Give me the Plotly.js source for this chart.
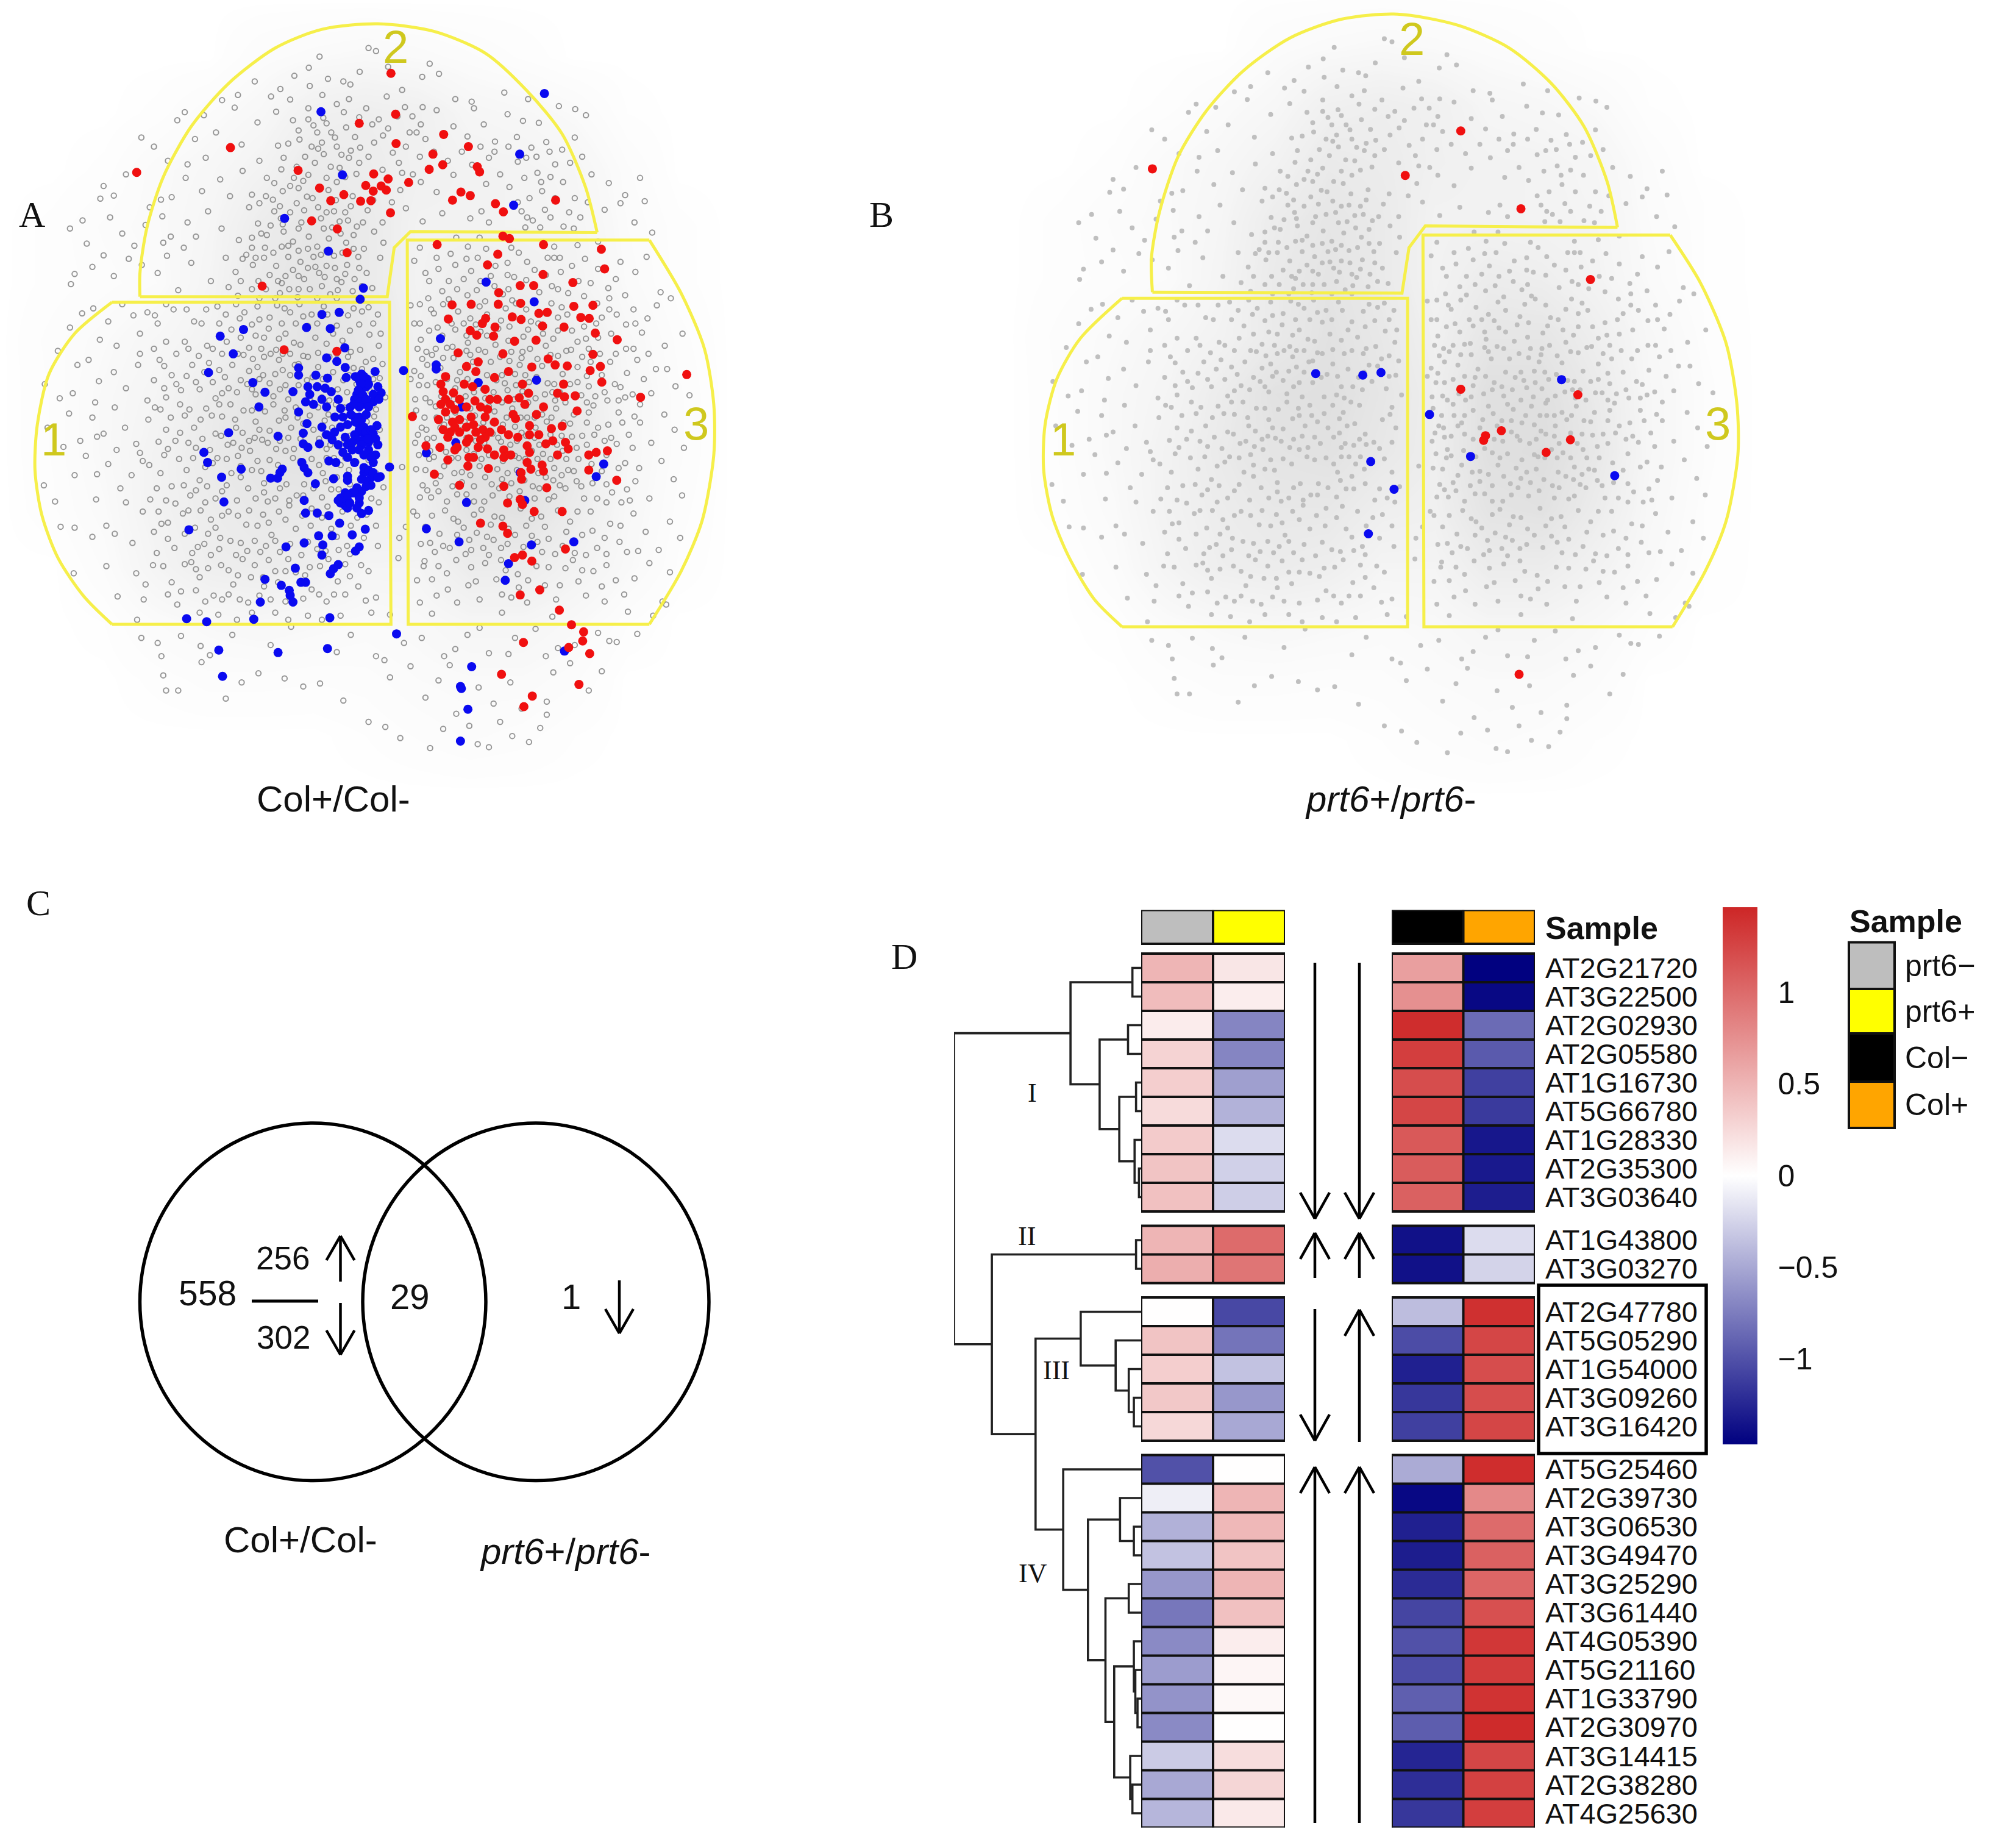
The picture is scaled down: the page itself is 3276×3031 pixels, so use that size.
<!DOCTYPE html>
<html><head><meta charset="utf-8">
<script src="https://cdn.plot.ly/plotly-3.0.1.min.js"></script>
<style>html,body{margin:0;padding:0;background:#fff}</style></head><body>
<div id="chart" style="width:3276px;height:3031px"></div>
<script>
const W=3276,H=3031;
// ---------- Panels A / B : map values ----------
const densityX=[0,112,224,336,448,560,672,784,896,1008,1120,1232,1344,1456,1568];
const densityY=[0,112,224,336,448,560,672,784,896,1008,1120,1232,1344,1456,1568];
const densityZ=[
[0,0,0,0,0,0,0,0,0,0,0,0,0,0,0],
[0,0,0,0,0,.08,.12,.15,.12,.08,.04,0,0,0,0],
[0,0,0,.03,.1,.18,.35,.4,.35,.22,.18,.12,.02,0,0],
[0,0,.03,.12,.18,.3,.5,.45,.35,.3,.28,.22,.08,0,0],
[0,.03,.08,.12,.22,.45,.6,.5,.3,.3,.28,.25,.1,.03,0],
[0,.03,.06,.1,.25,.5,.65,.5,.3,.45,.4,.28,.12,.03,0],
[0,.06,.12,.2,.3,.5,.7,.55,.35,.6,.6,.4,.18,.06,0],
[0,.05,.15,.25,.45,.7,.75,.6,.4,.75,.75,.5,.2,.08,0],
[0,.05,.15,.3,.5,.65,.7,.55,.4,.75,.8,.55,.2,.08,0],
[0,.04,.12,.3,.45,.55,.55,.4,.35,.65,.7,.45,.18,.06,0],
[0,0,.08,.25,.4,.45,.4,.25,.25,.45,.45,.3,.15,.04,0],
[0,0,.02,.1,.15,.18,.15,.12,.15,.22,.22,.15,.05,0,0],
[0,0,0,.03,.06,.06,.05,.06,.1,.12,.12,.08,0,0,0],
[0,0,0,0,0,0,0,.02,.05,.08,.06,.02,0,0,0],
[0,0,0,0,0,0,0,0,0,0,0,0,0,0,0]];
const grayPts=[
[790,95],[806,101],[685,112],[662,134],[631,150],[601,176],[546,161],[703,156],[736,161],[751,167],[829,191],[921,126],[941,146],[976,196],[1011,201],[581,191],[622,197],[691,188],[722,206],[771,142],[862,178],[906,212],[748,196],[510,188],[476,198],[905,152],[832,132],[664,170],[1081,183],[1132,196],
[396,222],[437,228],[503,213],[552,242],[592,221],[628,238],[661,214],[672,248],[693,233],[710,262],[737,222],[761,271],[785,214],[798,246],[821,268],[868,212],[884,230],[902,246],[912,275],[936,218],[972,250],[1016,214],[1037,246],[1061,280],[1088,226],[1121,239],[1155,243],[1198,210],[1233,216],[1256,228],[1232,272],[1171,281],[1108,271],[380,238],[418,275],[463,262],[518,286],[596,288],[642,276],[682,294],[722,290],[752,298],[870,290],[893,262],[1002,270],[1139,292],[303,272],[330,290],
[222,368],[244,387],[270,345],[360,318],[402,325],[441,312],[472,355],[520,338],[556,318],[572,352],[603,335],[622,368],[654,310],[661,346],[675,322],[694,305],[709,330],[722,360],[748,312],[764,344],[790,310],[855,322],[885,345],[902,360],[936,380],[972,346],[1048,312],[1072,345],[1092,370],[1128,312],[1152,342],[1190,325],[1207,360],[1232,392],[1268,345],[1305,362],[1372,352],[1340,386],[1162,378],[1135,392],[398,352],[368,390],[345,395],[433,378],[493,388],[540,385],[585,395],[640,372],[728,332],[658,389],[588,362],[704,376],[1124,352],[1248,310],[1012,326],[1042,364],
[150,452],[177,436],[186,482],[215,393],[236,430],[262,462],[288,486],[321,410],[348,428],[366,468],[402,440],[446,418],[475,452],[512,475],[534,410],[553,442],[572,465],[588,418],[608,458],[618,486],[636,402],[646,440],[662,468],[682,410],[694,452],[705,472],[716,418],[728,438],[752,408],[765,448],[788,416],[802,458],[822,480],[870,412],[906,438],[948,422],[1008,432],[1032,418],[1048,440],[1118,418],[1142,436],[1168,415],[1208,448],[1244,430],[1296,415],[1330,402],[1382,398],[1398,460],[1360,440],[1282,478],[1238,485],[1188,488],[1126,450],[540,470],[568,490],[628,478],[680,488],[742,480],[780,492],[420,468],[394,490],[350,480],[312,445],[688,432],[602,432],[758,465],[1096,490],[1028,470],[1003,488],[978,470],
[160,542],[152,562],[198,528],[222,505],[244,546],[276,512],[304,524],[338,540],[358,506],[382,574],[410,520],[452,556],[484,510],[505,538],[528,504],[542,524],[554,556],[566,510],[578,544],[592,526],[604,560],[618,508],[628,534],[644,518],[652,552],[664,572],[676,528],[688,504],[696,548],[708,582],[718,530],[732,558],[744,524],[756,576],[768,508],[786,540],[798,570],[815,510],[888,516],[912,540],[948,576],[976,524],[994,552],[1002,584],[1024,510],[1030,556],[1052,546],[1088,520],[1102,548],[1130,518],[1156,578],[1188,510],[1202,538],[1218,580],[1254,512],[1266,560],[1304,570],[1330,518],[1362,538],[1386,508],[1416,578],[1438,590],[1078,582],[1098,594],[1183,566],[1306,590],[918,590],[1040,596],[962,592],[590,590],[638,588],[680,590],[600,580],[722,590],[556,590],[510,585],
[176,620],[150,648],[124,694],[200,610],[232,636],[262,602],[286,624],[316,618],[338,640],[372,612],[396,676],[432,640],[456,690],[484,622],[506,602],[524,618],[552,606],[566,668],[578,628],[594,604],[604,640],[622,618],[630,678],[642,602],[668,622],[676,668],[694,606],[722,644],[734,674],[758,610],[770,642],[792,662],[810,622],[888,640],[902,672],[924,612],[938,648],[982,616],[994,640],[1028,606],[1044,664],[1084,610],[1092,646],[1122,666],[1138,636],[1182,600],[1186,670],[1216,622],[1238,676],[1290,628],[1306,612],[1342,642],[1376,658],[1408,604],[1425,684],[1463,660],[1214,694],[958,688],[1026,692],[1120,696],[914,696],[1003,678],[556,632],[612,660],[466,606],[534,688],[592,692],[660,645],[700,680],[752,696],[790,608],[1262,690],[1342,690],[1170,620],[880,604],[356,676],[300,660],[250,684],[214,672],
[96,760],[128,788],[166,722],[190,712],[212,754],[244,736],[270,768],[296,722],[316,792],[342,712],[368,742],[388,772],[412,722],[438,736],[456,756],[462,788],[482,746],[498,722],[508,776],[522,702],[534,734],[552,726],[564,742],[578,758],[586,784],[598,712],[606,732],[612,762],[618,790],[632,722],[650,704],[658,752],[664,790],[682,726],[690,786],[714,736],[724,770],[758,728],[764,760],[784,716],[794,774],[814,748],[888,734],[898,762],[912,788],[926,702],[944,728],[972,708],[986,736],[1008,702],[1036,770],[1052,716],[1064,752],[1092,714],[1106,762],[1118,708],[1126,742],[1148,788],[1162,724],[1174,758],[1180,702],[1206,740],[1222,760],[1248,706],[1258,744],[1276,784],[1308,716],[1318,760],[1344,738],[1366,712],[1396,778],[1430,730],[1448,764],[1478,782],[1406,730],[1340,786],[1040,788],[960,796],[905,710],[1120,774],[1246,782],[1302,792],[476,778],[540,770],[428,770],[566,706],[640,762],[706,792],[744,776],[826,786],[356,786],[204,796],[156,778],[1082,758],[976,768],[1190,792],[1072,706],
[102,846],[148,818],[172,872],[198,826],[222,858],[246,806],[268,846],[292,878],[318,830],[332,806],[356,850],[376,872],[396,822],[416,846],[442,808],[462,858],[476,824],[506,846],[522,812],[534,872],[548,834],[568,814],[578,852],[592,888],[612,826],[624,846],[634,806],[644,868],[664,822],[672,850],[696,832],[708,880],[728,842],[738,806],[750,862],[802,824],[892,812],[904,846],[916,868],[934,804],[958,826],[1008,808],[1026,846],[1048,804],[1068,866],[1086,826],[1098,808],[1118,856],[1128,802],[1156,880],[1172,834],[1192,808],[1222,838],[1248,862],[1262,816],[1282,846],[1296,872],[1326,816],[1348,860],[1372,836],[1396,876],[1424,820],[1446,850],[1466,886],[1094,880],[1038,876],[976,872],[922,892],[890,876],[1236,886],[1310,866],[488,880],[420,886],[360,888],[300,896],[250,890],[208,864],[136,884],[562,870],[612,892],[696,860],[720,800],[618,866],[536,892],[1146,826],[1204,862],[1272,802],[1056,836],[990,850],[1000,890],[944,846],[1116,826],
[94,960],[118,992],[160,940],[184,902],[206,988],[232,918],[258,966],[282,940],[306,912],[322,988],[344,936],[368,962],[384,908],[408,980],[428,950],[456,916],[476,972],[496,936],[510,902],[532,966],[552,912],[566,956],[574,992],[614,958],[628,906],[636,980],[668,908],[692,936],[710,968],[730,920],[748,930],[770,990],[822,964],[892,928],[906,960],[920,908],[944,942],[958,992],[968,906],[990,934],[1016,962],[1032,908],[1056,980],[1066,928],[1096,956],[1104,902],[1142,962],[1152,908],[1188,926],[1200,960],[1214,908],[1236,952],[1252,986],[1290,932],[1312,974],[1340,916],[1362,952],[1392,986],[1418,912],[1444,948],[1462,980],[1332,994],[1280,986],[1176,988],[1038,992],[980,978],[924,984],[862,924],[440,994],[508,990],[590,986],[690,984],[716,906],[1126,908],[1170,944],[1088,936],[1218,930],[990,954],[376,996],[270,994],[208,938],[560,932],[652,958],
[130,1042],[160,1044],[228,1040],[246,1056],[284,1074],[306,1012],[330,1052],[346,1036],[374,1084],[392,1016],[418,1044],[438,1076],[452,1028],[472,1064],[490,1012],[506,1098],[528,1038],[546,1070],[564,1018],[582,1058],[600,1092],[612,1028],[634,1046],[666,1040],[680,1086],[702,1002],[722,1062],[744,1080],[766,1024],[806,1040],[886,1012],[902,1076],[926,1020],[942,1056],[964,1084],[982,1032],[1006,1068],[1016,1018],[1044,1062],[1060,1022],[1104,1058],[1128,1040],[1160,1022],[1176,1066],[1190,1096],[1222,1032],[1248,1058],[1266,1012],[1280,1084],[1308,1036],[1328,1072],[1358,1016],[1384,1052],[1412,1088],[1436,1032],[1458,1064],[1344,1092],[1232,1094],[1074,1084],[998,1096],[932,1092],[856,1064],[646,1098],[558,1092],[452,1098],[412,1094],[336,1094],[198,1062],[1152,1072],[1022,1054],[870,1042],
[158,1134],[228,1120],[292,1134],[308,1186],[328,1118],[368,1152],[388,1170],[410,1112],[428,1142],[458,1178],[474,1118],[500,1156],[520,1106],[538,1142],[556,1178],[576,1108],[590,1130],[618,1106],[664,1122],[684,1176],[740,1116],[768,1160],[806,1182],[854,1104],[894,1148],[908,1120],[936,1178],[958,1134],[978,1108],[1004,1158],[1028,1186],[1040,1114],[1064,1146],[1096,1182],[1132,1148],[1176,1122],[1200,1158],[1228,1108],[1256,1178],[1272,1130],[1300,1118],[1338,1176],[1360,1144],[1392,1114],[1420,1190],[1436,1132],[1130,1192],[980,1192],[900,1192],[774,1118],[716,1176],[532,1192],[476,1186],[380,1196],[252,1180],[312,1156],[1074,1108],[940,1120],[1240,1150],
[294,1226],[303,1262],[338,1272],[388,1258],[430,1278],[498,1256],[540,1212],[624,1240],[660,1218],[752,1256],[796,1212],[836,1216],[866,1272],[904,1262],[926,1214],[976,1284],[1002,1256],[1028,1242],[1048,1292],[1076,1212],[1104,1262],[1148,1244],[1184,1220],[1196,1282],[1232,1276],[1282,1252],[1306,1268],[1346,1210],[1366,1254],[1428,1196],[1400,1218],[580,1276],[450,1296],[346,1298],[722,1290],[806,1298],[952,1298],[1090,1294],[1170,1298],[1322,1270],
[350,1336],[356,1366],[382,1366],[432,1310],[484,1382],[518,1350],[554,1332],[610,1342],[650,1358],[686,1352],[736,1386],[824,1306],[836,1340],[880,1318],[912,1380],[940,1346],[964,1316],[1026,1360],[1058,1392],[1094,1350],[1172,1388],[1186,1330],[1222,1312],[1262,1366],[1290,1328],
[790,1428],[826,1438],[858,1460],[922,1480],[950,1442],[1006,1436],[1048,1478],[1072,1428],[1098,1456],[1134,1468],[1158,1440],[1172,1414],[1024,1472],[978,1412],[1118,1402]];
const grayPtsDense=[
[661,236],[680,262],[700,244],[718,272],[742,252],[770,232],[812,236],[832,254],[852,230],[878,262],[640,258],[618,284],[608,312],[636,330],[668,290],[690,282],[732,306],[772,292],[802,282],[842,302],[862,342],[820,336],[770,322],[740,350],[700,352],[684,372],[650,358],[630,352],[606,378],[570,388],[556,402],[600,408],[622,420],[652,416],[668,436],[640,452],[606,444],[580,446],[560,462],[540,490],[520,512],[548,510],[586,500],[604,488],[640,496],[660,492],[672,508],[700,496],[716,506],[734,500],[758,492],[770,530],[760,552],[740,542],[722,552],[700,526],[684,540],[660,530],[640,546],[612,546],[596,556],[570,572],[540,572],[516,556],[490,568],[620,572],[640,572],[690,566],[724,574],[776,566],[730,462],[712,450],[740,420],[700,420],[670,392],[720,396],[756,388],[746,436],[778,440],[800,396],[820,440],[840,400],[858,376],[900,310],[930,300],[960,318],[990,300],[1030,290],[1060,300],[1090,290],[1110,320],[1150,310],[1178,300],[1205,296],[1222,322],[1180,350],[1160,360],[1190,392],[1220,420],[1158,450],[1130,430],[1110,400],[1180,430],[1230,452],[1260,400],
[900,490],[936,510],[966,502],[1000,512],[1042,492],[1062,526],[1088,544],[1112,500],[1146,534],[1174,510],[1200,510],[1226,526],[1240,556],[1282,532],[1320,552],[920,556],[940,532],[962,556],[980,572],[1010,536],[1022,574],[1060,566],[1090,572],[1128,554],[1170,544],[1196,572],[1252,586],[1280,600],[1340,584],[900,602],[930,620],[950,602],[968,640],[1008,630],[1020,642],[1044,622],[1074,634],[1106,600],[1128,612],[1154,640],[1196,628],[1204,608],[1252,646],[1278,640],[1322,622],[1358,612],[1388,630],[900,640],[920,654],[948,664],[976,652],[1000,664],[1030,656],[1068,650],[1090,674],[1132,652],[1164,660],[1196,654],[1226,654],[1256,670],[1282,668],[1310,660],[1362,640],
[895,690],[916,722],[934,690],[950,708],[970,686],[1000,694],[1014,716],[1040,696],[1062,682],[1096,696],[1114,722],[1136,690],[1152,710],[1170,684],[1196,704],[1224,692],[1238,726],[1266,716],[1286,700],[1320,700],[1358,690],[1390,700],[880,750],[902,744],[916,762],[934,756],[958,750],[980,752],[1002,750],[1020,762],[1044,742],[1076,742],[1088,772],[1104,740],[1134,756],[1150,746],[1188,760],[1200,776],[1238,756],[1262,764],[1290,742],[1330,766],[1356,780],[1380,750],[890,790],[922,796],[946,784],[972,790],[998,784],[1016,776],[1058,776],[1076,796],[1102,790],[1132,796],[1168,780],[1184,776],[1212,796],[1232,782],[1258,796],[1296,776],[1326,792],[1372,800],
[886,820],[910,826],[936,826],[952,840],[976,816],[996,834],[1018,822],[1036,836],[1060,814],[1078,840],[1104,844],[1130,826],[1148,846],[1162,820],[1182,826],[1208,836],[1230,820],[1258,836],[1274,860],[1304,840],[1334,836],[1360,824],[896,860],[914,850],[930,866],[958,862],[1000,866],[1020,872],[1056,858],[1074,874],[1108,872],[1128,862],[1146,866],[1180,860],[1194,880],[1226,864],[1258,880],[1322,878],[1356,886],[898,900],[930,904],[956,894],[982,906],[1016,898],[1028,922],[1048,900],[1078,912],[1112,906],[1140,892],[1164,898],[1180,908],[1206,892],[1240,908],[1268,918],[1300,900],[1326,926],[1370,926],[912,930],[934,956],[952,922],[974,936],[1008,940],[1040,944],[1054,958],[1076,948],[1108,930],[1124,950],[1154,936],[1186,950],[1204,940],[1230,932],[1270,956],[1300,958],[1344,968],[900,984],[916,970],[940,972],[970,962],[1000,978],[1016,992],[1070,966],[1092,982],[1114,972],[1146,986],[1156,966],[1188,982],[1212,966],[1246,962],[1300,994],[1350,990],
[894,1020],[912,1042],[954,1010],[972,1026],[994,1044],[1032,1008],[1052,1038],[1076,1024],[1090,1046],[1116,1006],[1140,1026],[1168,1042],[1196,1010],[1214,1052],[1238,1012],[1270,1050],[1296,1064],[1330,1040],[922,1074],[950,1080],[980,1058],[1010,1088],[1036,1084],[1058,1068],[1088,1076],[1122,1082],[1140,1060],[1162,1092],[1206,1080],[1256,1098],[1300,1096],[1368,1090],[910,1110],[926,1146],[1010,1122],[1020,1150],[1048,1098],[1084,1128],[1110,1136],[1150,1120],[1168,1158],[1212,1124],[1248,1128],[1290,1160],[1320,1148],[960,1166],[1076,1176],[1112,1162],[1192,1186],[1296,1190],
[332,624],[356,602],[400,612],[416,636],[442,612],[470,640],[496,652],[514,630],[540,642],[548,664],[576,650],[598,670],[610,610],[634,640],[650,626],[680,640],[702,622],[714,660],[746,624],[750,654],[776,616],[800,640],[816,660],[300,700],[330,690],[352,724],[378,700],[404,690],[426,704],[444,684],[476,700],[486,676],[516,668],[510,700],[542,710],[560,690],[580,700],[606,700],[622,700],[644,682],[660,706],[682,698],[706,706],[722,700],[746,706],[772,692],[800,710],[812,684],[330,752],[352,768],[378,760],[400,744],[420,756],[448,718],[470,732],[490,768],[516,752],[530,760],[548,780],[556,750],[590,740],[600,770],[622,742],[640,720],[670,746],[692,750],[700,770],[736,752],[748,742],[776,730],[800,750],[820,720],
[344,810],[366,826],[386,800],[406,810],[430,830],[454,822],[470,800],[494,800],[504,830],[520,856],[540,812],[556,850],[586,800],[598,832],[610,812],[638,826],[650,838],[682,806],[704,820],[712,846],[738,872],[768,878],[786,834],[806,810],[814,850],[340,874],[386,856],[404,876],[434,868],[450,890],[474,862],[500,876],[518,886],[546,866],[574,876],[600,872],[630,888],[656,880],[684,868],[700,888],[726,884],[752,882],[780,890],[806,878],[320,920],[352,900],[400,930],[414,906],[440,924],[466,906],[486,908],[516,922],[540,930],[578,910],[596,920],[644,912],[684,920],[700,906],[722,944],[740,906],[764,914],[790,910],[806,936],[336,966],[356,990],[394,960],[420,970],[444,962],[462,986],[486,960],[516,944],[548,986],[566,974],[600,966],[620,990],[650,980],[672,966],[698,952],[726,968],[750,958],[780,968],[796,986],[812,994],
[340,1012],[360,1034],[404,1010],[430,1010],[446,1056],[462,1044],[476,1020],[510,1020],[534,1010],[552,1040],[576,1034],[598,1012],[620,1000],[648,1020],[668,1006],[690,1024],[710,1046],[734,1012],[752,1040],[786,1018],[360,1066],[396,1056],[424,1082],[470,1086],[494,1070],[516,1074],[530,1090],[570,1080],[590,1070],[622,1076],[660,1072],[698,1090],[726,1088],[750,1096],[780,1064],[810,1080],[350,1120],[396,1116],[420,1126],[446,1124],[490,1128],[510,1138],[546,1118],[564,1142],[596,1152],[612,1130],[634,1132],[654,1138],[686,1120],[704,1106],[724,1150],[750,1140],[790,1130],[360,1176],[420,1168],[440,1190],[490,1176],[514,1186],[566,1160],[580,1186],[612,1190],[650,1184],[668,1166],[700,1190],[740,1176],[784,1188],[428,1212],[468,1216],[508,1226],[590,1212],[618,1226],[690,1226],[730,1218]];
const redAX=[838,848,770,951,849,1004,494,293,928,949,920,1023,1028,639,801,832,784,876,817,800,828,685,737,988,1008,970,709,773,795,1062,1191,1079,837,668,723,1078,1092,937,1165,744,1289,1067,1045,1296,1164,1228,562,1115,1144,1069,1116,969,1010,1068,1230,1271,1155,1173,1098,1117,1245,1263,961,1041,1034,1163,1209,1008,1061,1022,1058,1276,1323,1103,1149,609,722,982,1078,1271,1140,1190,1216,1287,1265,1025,1000,1020,995,955,1060,1290,945,950,972,1013,1472,1373,1195,1210,1233,1133,1090,1066,1018,1113,1208,884,985,970,1010,1040,1060,1035,950,965,985,1020,1050,1075,1150,1165,1237,1105,1135,1205,1182,1170,1185,1212,1218,1005,1000,1025,913,943,975,1045,1080,1130,1135,1195,1278,1302,1262,1005,1060,1080,960,1003,1047,1130,1162,1165,1138,1117,1262,931,1118,985,1080,1172,1322,1088,1115,1120,1145,1205,1030,1078,1088,1212,1103,1120,1140,1115,1157,1199,1225,1251,1122,1249,1219,1264,1075,1241,1141,1123,
955,945,965,985,975,955,940,1000,1030,1045,1015,1000,975,960,1040,1030,1090,1110,1135,1155,1095,1100,1125,1040,1050,1175,1090,1120,980,1015];
const redAY=[145,226,244,266,284,290,292,341,305,326,335,330,340,337,344,354,367,361,368,378,376,372,385,380,387,396,397,398,397,403,396,419,421,437,453,467,472,484,484,500,493,503,524,532,543,559,566,565,565,579,600,603,602,602,606,604,620,618,627,632,628,630,631,630,640,645,647,654,647,663,665,659,672,675,673,692,695,698,700,701,726,722,724,725,733,716,725,735,760,745,747,756,760,775,777,765,741,786,778,785,783,778,790,790,793,787,760,824,830,835,825,825,835,850,850,855,855,855,855,850,820,805,813,828,842,843,848,878,872,875,888,868,875,885,882,885,890,888,890,882,895,900,895,892,900,905,900,905,910,922,927,915,920,932,928,935,930,938,948,960,962,965,950,995,988,998,1012,1012,1035,1041,1055,1086,1103,1098,1110,1177,1167,1207,1236,1250,1271,1268,1281,1293,1334,1354,1377,1398,
790,800,800,790,810,815,830,805,805,810,840,845,845,865,865,870,860,865,860,860,900,820,800,770,790,710,735,760,885,905];
const blueAX=[1167,688,1114,734,1101,610,704,779,772,727,690,522,472,657,708,500,739,700,722,640,447,740,640,742,677,702,804,865,935,935,775,787,660,680,697,628,568,542,785,775,765,817,772,664,555,700,730,750,778,800,1150,944,1145,1042,718,760,770,658,770,690,717,775,808,490,650,596,780,740,790,650,685,805,745,755,790,660,437,805,647,705,720,760,800,445,652,605,517,600,835,660,580,595,475,715,745,780,795,815,785,745,795,676,765,755,730,775,480,652,745,740,770,745,790,655,680,775,705,728,405,783,755,712,683,652,692,613,770,762,690,725,715,708,633,645,655,568,603,620,622,628,558,707,544,400,443,850,469,596,702,477,914,984,1000,977,914,1025,990,1115,1125,1278,1294,1230,1139,1090,1083,1210,1011,987,989,1003,987,
762,770,780,790,773,768,760,778,772,785,770,758,790,800,812,810,752,762,775,785,780,770,760,785,795,800,765,775,788,755,770,780,795,810,725,735,745,780,790,800,810,775,785,760,770,740,730,735,750,745,725,765,700,712,730,745,735,725,710,690,672,655,640];
const blueAY=[185,221,305,346,406,432,497,570,592,618,622,652,665,648,650,700,688,708,715,728,737,727,742,747,742,748,735,733,730,722,740,750,765,765,768,775,776,757,765,770,780,777,785,780,805,805,808,806,800,795,752,670,597,558,825,825,825,838,840,845,855,855,842,856,857,863,870,865,875,878,878,868,880,890,890,885,895,900,915,912,915,915,915,915,925,928,928,935,924,935,946,946,944,947,942,935,945,943,952,950,960,957,965,975,985,972,993,990,990,1000,995,1005,1010,1015,1015,1016,1020,1035,1048,1047,1058,1060,1060,1074,1078,1082,1082,1090,1098,1117,1125,1135,1124,1152,1152,1146,1158,1168,1178,1191,1191,1222,1225,1224,1230,1254,1286,1291,1283,1338,1046,1072,994,876,896,757,805,935,990,943,918,1072,1078,1115,1148,1288,1319,1358,1362,1403,1466,
745,752,745,760,760,772,790,782,795,790,805,800,805,780,790,765,820,835,830,820,845,850,860,855,850,858,870,880,868,875,890,900,905,880,880,895,905,925,930,935,945,948,962,975,985,975,995,985,995,980,990,1005,860,870,845,840,825,790,775,790,800,795,815];
const redBX=[275,936,817,1065,1214,936,1187,1023,989,985,1171,1119,1061];
const redBY=[334,259,347,413,553,770,781,852,862,871,870,895,1334];
const blueBX=[625,726,765,869,743,793,738,1152,957,1266];
const blueBY=[739,742,737,820,913,968,1056,751,903,941];
// gated regions (straight edges and curved edges), map units
const gateAStraightX=[240,835,838,240,null,300,830,845,880,1280,null,1392,873,875,1392];
const gateAStraightY=[598,598,1235,1235,null,587,587,490,458,460,null,475,475,1235,1235];
const gateAArcX=[240,180,125,90,75,80,105,160,240,null,1280,1255,1205,1130,1040,930,810,690,590,490,410,350,315,300,300,null,1392,1460,1510,1530,1530,1505,1460,1392];
const gateAArcY=[1235,1180,1105,1020,930,840,740,660,598,null,460,370,265,180,105,62,47,58,95,165,250,350,450,540,587,null,475,580,690,800,900,1030,1130,1235];
const gateBStraightX=[210,822,822,210,null,275,810,825,860,1272,null,1385,855,857,1390];
const gateBStraightY=[590,590,1240,1240,null,578,580,490,447,450,null,465,465,1240,1240];
const gateBArcX=[210,150,95,60,42,45,70,120,210,null,1272,1250,1200,1130,1040,930,800,680,570,470,390,330,290,273,275,null,1385,1450,1505,1528,1530,1505,1460,1390];
const gateBArcY=[1240,1185,1100,1020,930,840,750,670,590,null,450,360,250,165,95,50,28,38,75,140,220,310,420,510,578,null,465,560,680,800,900,1030,1130,1240];
// ---------- Panel D ----------
const genes=["AT2G21720","AT3G22500","AT2G02930","AT2G05580","AT1G16730","AT5G66780","AT1G28330","AT2G35300","AT3G03640","AT1G43800","AT3G03270","AT2G47780","AT5G05290","AT1G54000","AT3G09260","AT3G16420","AT5G25460","AT2G39730","AT3G06530","AT3G49470","AT3G25290","AT3G61440","AT4G05390","AT5G21160","AT1G33790","AT2G30970","AT3G14415","AT2G38280","AT4G25630"];
const prt6Minus=[.5,.45,.13,.3,.33,.24,.35,.4,.42,.5,.55,.01,.4,.33,.37,.26,-1,-.1,-.45,-.35,-.6,-.78,-.67,-.57,-.62,-.67,-.3,-.5,-.42];
const prt6Plus=[.17,.12,-.7,-.7,-.55,-.44,-.2,-.27,-.28,1,.93,-1.05,-.8,-.35,-.6,-.5,.01,.5,.48,.4,.5,.42,.12,.07,.05,.01,.23,.28,.15];
const colMinus=[.65,.75,1.42,1.3,1.2,1.25,1.12,1.1,1.07,-1.37,-1.37,-.38,-1.03,-1.28,-1.15,-1.1,-.48,-1.42,-1.28,-1.3,-1.22,-1.07,-1,-1.03,-.92,-.93,-1.25,-1.2,-1.15];
const colPlus=[-1.46,-1.42,-.85,-.95,-1.1,-1.13,-1.33,-1.32,-1.3,-.2,-.25,1.4,1.25,1.2,1.2,1.25,1.42,.8,1,1.07,1.03,1.18,1.35,1.32,1.38,1.43,1.25,1.28,1.3];
const clusterSizes=[9,2,5,13];
const clusterNames=["I","II","III","IV"];
const sampleNames=["prt6\u2212","prt6+","Col\u2212","Col+"];
const sampleColors=["#BEBEBE","#FFFF00","#000000","#FFA500"];
const colorTicks=[-1,-.5,0,.5,1];
const dendro=[138,
 [298,[383,0,1],[338,[377,2,3],[365,[388,4,5],[386,6,[392,7,8]]]]],
 [190,[388,9,10],[250,[312,11,[360,12,[378,13,[385,14,15]]]],
  [288,16,[322,[366,17,[385,18,19]],[346,[378,20,21],[358,[385,22,[387,23,[390,24,25]]],[380,26,[383,27,28]]]]]]]]];

const fx=p=>p/W, fy=p=>1-p/H;
const FONT='"Liberation Sans",Arial,sans-serif', SERIF='"Liberation Serif",serif';
const RB=[[0,'#000080'],[.5,'#ffffff'],[1,'#CD2626']];
const traces=[], shapes=[], ann=[];
const layout={width:W,height:H,margin:{l:0,r:0,t:0,b:0},paper_bgcolor:'#fff',plot_bgcolor:'rgba(0,0,0,0)',showlegend:false,shapes,annotations:ann};
function axes(n,xd,yd,xr,yr){ // domains in page pixels
  const s=n===1?'':n;
  layout['xaxis'+s]={visible:false,domain:[fx(xd[0]),fx(xd[1])],range:xr,anchor:'y'+s,fixedrange:true};
  if(yd) layout['yaxis'+s]={visible:false,domain:[fy(yd[1]),fy(yd[0])],range:yr,anchor:'x'+s,fixedrange:true};
}
axes(1,[0,1200],[0,1300],[0,1568],[1568,0]);          // A map
axes(2,[1652,2880.5],[0,1309],[0,1568],[1568,20]);    // B map: same gene layout
axes(3,[1680,2880],[0,1300],[0,1568],[1568,0]);       // B overlays
axes(4,[1872,2108],[1492.5,2997.5],[0,2],[30.5,-1.52]); // D left
axes(5,[2283,2518],null,[0,2]);
axes(6,[1565,1872],null,[138,395]);
layout.xaxis5.anchor='y4'; layout.xaxis6.anchor='y4';

const allGray=grayPts.concat(grayPtsDense);
const gx=allGray.map(p=>p[0]), gy=allGray.map(p=>p[1]);
function mapPanel(cloud,marks,redX,redY,blueX,blueY,sx,sy,ax,ay,grayM,fog){
  traces.push({type:'heatmap',x:densityX,y:densityY,z:densityZ,zsmooth:'best',zmin:0,zmax:1,showscale:false,opacity:fog,
    colorscale:[[0,'#ffffff'],[1,'#b4b4b4']],xaxis:cloud[0],yaxis:cloud[1],hoverinfo:'skip'});
  traces.push({type:'scatter',mode:'markers',x:gx,y:gy,marker:grayM,xaxis:cloud[0],yaxis:cloud[1],hoverinfo:'skip'});
  traces.push({type:'scatter',mode:'lines',x:sx,y:sy,line:{color:'#F6EF4A',width:5},xaxis:marks[0],yaxis:marks[1],hoverinfo:'skip'});
  traces.push({type:'scatter',mode:'lines',x:ax,y:ay,line:{color:'#F6EF4A',width:5,shape:'spline',smoothing:.8},xaxis:marks[0],yaxis:marks[1],hoverinfo:'skip'});
  traces.push({type:'scatter',mode:'markers',x:blueX,y:blueY,marker:{color:'#0A0AF0',size:15},xaxis:marks[0],yaxis:marks[1],hoverinfo:'skip'});
  traces.push({type:'scatter',mode:'markers',x:redX,y:redY,marker:{color:'#F01010',size:15},xaxis:marks[0],yaxis:marks[1],hoverinfo:'skip'});
}
mapPanel(['x','y'],['x','y'],redAX,redAY,blueAX,blueAY,gateAStraightX,gateAStraightY,gateAArcX,gateAArcY,
  {symbol:'circle-open',size:8.5,color:'rgba(125,125,125,.8)',line:{width:2}},.55);
mapPanel(['x2','y2'],['x3','y3'],redBX,redBY,blueBX,blueBY,gateBStraightX,gateBStraightY,gateBArcX,gateBArcY,
  {symbol:'circle',size:8,color:'rgba(188,188,188,.95)'},.55);

// heatmaps, cluster by cluster
let rowStart=0, rowTop=0; const rowCenter=[];
clusterSizes.forEach((n,ci)=>{
  const edges=[]; for(let i=0;i<=n;i++) edges.push(rowTop+i);
  for(let i=0;i<n;i++) rowCenter.push(rowTop+i+.5);
  [[ 'x4',prt6Minus,prt6Plus],['x5',colMinus,colPlus]].forEach(([xa,c0,c1],k)=>{
    const z=[]; for(let i=0;i<n;i++) z.push([c0[rowStart+i],c1[rowStart+i]]);
    traces.push({type:'heatmap',x:[0,1,2],y:edges,z,zmin:-1.465,zmax:1.465,colorscale:RB,xaxis:xa,yaxis:'y4',hoverinfo:'skip',
      showscale:ci===0&&k===0,
      colorbar:{x:fx(2826),xanchor:'left',xpad:0,y:fy(1487.5),yanchor:'top',ypad:0,lenmode:'pixels',len:880.5,thicknessmode:'pixels',thickness:57,
        outlinewidth:0,ticks:'outside',ticklen:24,tickcolor:'rgba(0,0,0,0)',tickvals:colorTicks,ticktext:colorTicks.map(v=>String(v).replace('-','\u2212')),tickfont:{family:FONT,size:50,color:'#111'}}});
    const lx=[],ly=[];
    edges.forEach(e=>{lx.push(0,2,null);ly.push(e,e,null)});
    [0,1,2].forEach(c=>{lx.push(c,c,null);ly.push(rowTop,rowTop+n,null)});
    traces.push({type:'scatter',mode:'lines',x:lx,y:ly,line:{color:'#111',width:4},xaxis:xa,yaxis:'y4',hoverinfo:'skip'});
  });
  rowStart+=n; rowTop+=n+.5;
});
// sample annotation bars
[['x4',0],['x5',2]].forEach(([xa,o])=>{
  traces.push({type:'heatmap',x:[0,1,2],y:[-1.52,-.34],z:[[0,1]],zmin:0,zmax:1,showscale:false,xaxis:xa,yaxis:'y4',hoverinfo:'skip',
    colorscale:[[0,sampleColors[o]],[.5,sampleColors[o]],[.5,sampleColors[o+1]],[1,sampleColors[o+1]]]});
  traces.push({type:'scatter',mode:'lines',x:[0,2,2,0,0,null,1,1],y:[-1.52,-1.52,-.34,-.34,-1.52,null,-1.52,-.34],line:{color:'#111',width:4},xaxis:xa,yaxis:'y4',hoverinfo:'skip'});
});
// dendrogram
const dx=[],dy=[];
(function walk(){
  function rec(node){
    if(typeof node==='number') return {h:395,y:rowCenter[node]};
    const a=rec(node[1]), b=rec(node[2]), h=node[0];
    dx.push(a.h,h,h,b.h,null); dy.push(a.y,a.y,b.y,b.y,null);
    return {h,y:(a.y+b.y)/2};
  }
  rec(dendro);
})();
traces.push({type:'scatter',mode:'lines',x:dx,y:dy,line:{color:'#222',width:3.6},xaxis:'x6',yaxis:'y4',hoverinfo:'skip'});

function txt(t,x,y,size,o={}){ann.push(Object.assign({text:t,x:fx(x),y:fy(y),xref:'paper',yref:'paper',showarrow:false,xanchor:'center',yanchor:'middle',borderpad:0,font:{family:FONT,size,color:'#111'}},o))}
function seg(x0,y0,x1,y1,w=4,c='#000'){shapes.push({type:'line',xref:'paper',yref:'paper',x0:fx(x0),y0:fy(y0),x1:fx(x1),y1:fy(y1),line:{color:c,width:w},layer:'above'})}
function arrow(x,tail,tip,hw,hl,w=4.5){const d=tip>tail?-1:1; seg(x,tail,x,tip,w); seg(x-hw,tip+d*hl,x,tip,w); seg(x+hw,tip+d*hl,x,tip,w);}
// gene labels
genes.forEach((g,i)=>ann.push({text:g,x:fx(2534),xref:'paper',y:rowCenter[i],yref:'y4',showarrow:false,xanchor:'left',yanchor:'middle',borderpad:0,font:{family:FONT,size:47,color:'#111'}}));
txt('<b>Sample</b>',2534,1522,52,{xanchor:'left'});
txt('<b>Sample</b>',3033,1511,52,{xanchor:'left'});
const legendEdges=[1545.6,1622,1695,1774,1850];
sampleNames.forEach((s,i)=>{
  shapes.push({type:'rect',xref:'paper',yref:'paper',x0:fx(3033),x1:fx(3108),y0:fy(legendEdges[i]),y1:fy(legendEdges[i+1]),fillcolor:sampleColors[i],line:{color:'#111',width:4},layer:'above'});
  txt(s,3124,(legendEdges[i]+legendEdges[i+1])/2,50,{xanchor:'left'});
});
shapes.push({type:'rect',xref:'paper',yref:'paper',x0:fx(2524),x1:fx(2799),y0:fy(2108),y1:fy(2384),line:{color:'#000',width:5.5},layer:'above'});
// D arrows
[2157,2230].forEach((x,i)=>{
  arrow(x,1579,1999,24,43);
  arrow(x,2096,2022,24,43);
  if(i===0) arrow(x,2147,2363,24,43); else arrow(x,2365,2148,24,43);
  arrow(x,2990,2406,24,43);
});
const romanPos=[[1693,1792],[1685,2027],[1733,2247],[1694,2580]];
clusterNames.forEach((c,i)=>txt(c,romanPos[i][0],romanPos[i][1],44,{font:{family:SERIF,size:44,color:'#111'}}));
// panel letters
[['A',52,352],['B',1446,352],['C',63,1481],['D',1483,1569]].forEach(([t,x,y])=>txt(t,x,y,60,{font:{family:SERIF,size:60,color:'#111'}}));
// map captions and region numbers
txt('Col+/Col-',547,1310,60);
txt('<i>prt6</i>+/<i>prt6</i>-',2281,1310,60);
const numC={family:FONT,size:76,color:'#CFC81E'};
[['1',88,721],['2',649,77],['3',1142,695],['1',1744,721],['2',2316,64],['3',2818,695]].forEach(([t,x,y])=>txt(t,x,y,76,{font:numC}));
// Venn
[[229.5,797],[595,1163]].forEach(([a,b])=>shapes.push({type:'circle',xref:'paper',yref:'paper',x0:fx(a),x1:fx(b),y0:fy(1842),y1:fy(2428.6),line:{color:'#000',width:5.5},layer:'above'}));
const vennCounts=[['558',340,2121,57],['256',464,2063,53],['302',465,2193,53],['29',672,2126,58],['1',937,2126,58]];
vennCounts.forEach(([t,x,y,s])=>txt(t,x,y,s));
seg(413,2134,522,2134,5);
arrow(558.5,2102,2027,23,40);
arrow(558.5,2137,2222,23,40);
arrow(1016,2100,2187,23,40);
txt('Col+/Col-',493,2525,60);
txt('<i>prt6</i>+/<i>prt6</i>-',927,2544,60);
Plotly.newPlot('chart',traces,layout,{displayModeBar:false,staticPlot:true});
</script></body></html>
